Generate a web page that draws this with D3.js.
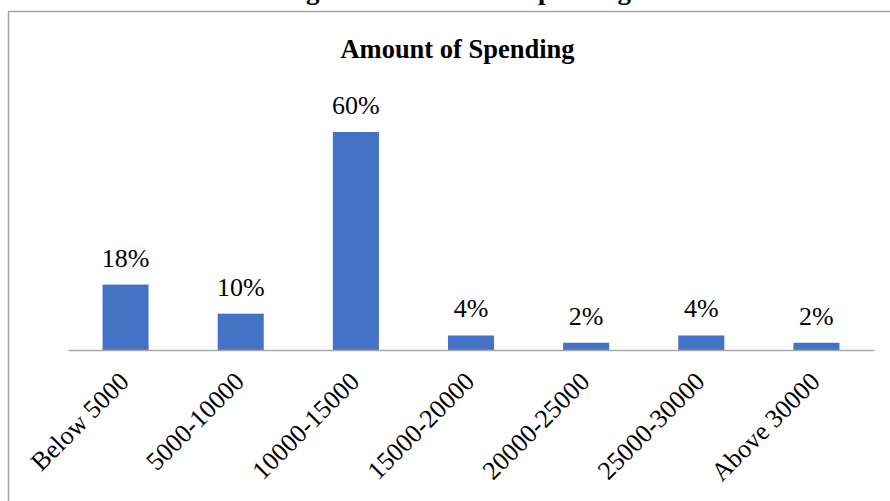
<!DOCTYPE html>
<html><head><meta charset="utf-8">
<script src="https://cdn.jsdelivr.net/npm/d3@7"></script>
<style>body{margin:0;background:#fff}svg{display:block}</style>
</head><body><svg id="c" width="890" height="501"></svg>
<script>
const categories = ["Below 5000","5000-10000","10000-15000","15000-20000","20000-25000","25000-30000","Above 30000"];
const values = [18,10,60,4,2,4,2];
const valueLabels = ["18%","10%","60%","4%","2%","4%","2%"];
const chartTitle = "Amount of Spending";
const figureCaption = "Figure 3: Amount of Spending";

const FONT = "'Liberation Serif','Times New Roman',serif";
const svg = d3.select("#c");
// caption cut off at top (as in the reference)
svg.append("text").attr("x", 282).attr("y", -1.5).attr("text-anchor","start")
  .style("font-family",FONT).attr("font-weight","bold").attr("font-size",27).text(figureCaption);
// frame
svg.append("path").attr("d","M8.5,505V11.5H895").attr("fill","none").attr("stroke","#a6a6a6").attr("stroke-width",1.5);

const x = d3.scaleBand().domain(categories).range([68,874]).paddingInner(0.6).paddingOuter(0.3);
const y = d3.scaleLinear().domain([0,70]).range([350,95.7]);

svg.append("text").attr("x",457.5).attr("y",57.5).attr("text-anchor","middle")
  .style("font-family",FONT).attr("font-weight","bold").attr("font-size",26.5).text(chartTitle);

svg.selectAll("rect.bar").data(values).join("rect").attr("class","bar")
  .attr("x",(d,i)=>x(categories[i])).attr("width",x.bandwidth())
  .attr("y",d=>y(d)).attr("height",d=>y(0)-y(d)).attr("fill","#4472C4");

svg.selectAll("text.val").data(values).join("text").attr("class","val")
  .attr("x",(d,i)=>x(categories[i])+x.bandwidth()/2).attr("y",d=>y(d)-18)
  .attr("text-anchor","middle").style("font-family",FONT).attr("font-size",26).attr("fill","#000").text((d,i)=>valueLabels[i]);

const ax = svg.append("g").attr("transform","translate(0,350)").call(d3.axisBottom(x).tickSize(0).tickSizeOuter(0));
ax.select(".domain").attr("stroke","#a6a6a6").attr("stroke-width",1.5);
ax.selectAll(".tick text").style("font-family",FONT).attr("font-size",26).attr("fill","#000")
  .attr("text-anchor","end").attr("dy",0).attr("y",0)
  .attr("transform","translate(5,33) rotate(-45)");
</script></body></html>
